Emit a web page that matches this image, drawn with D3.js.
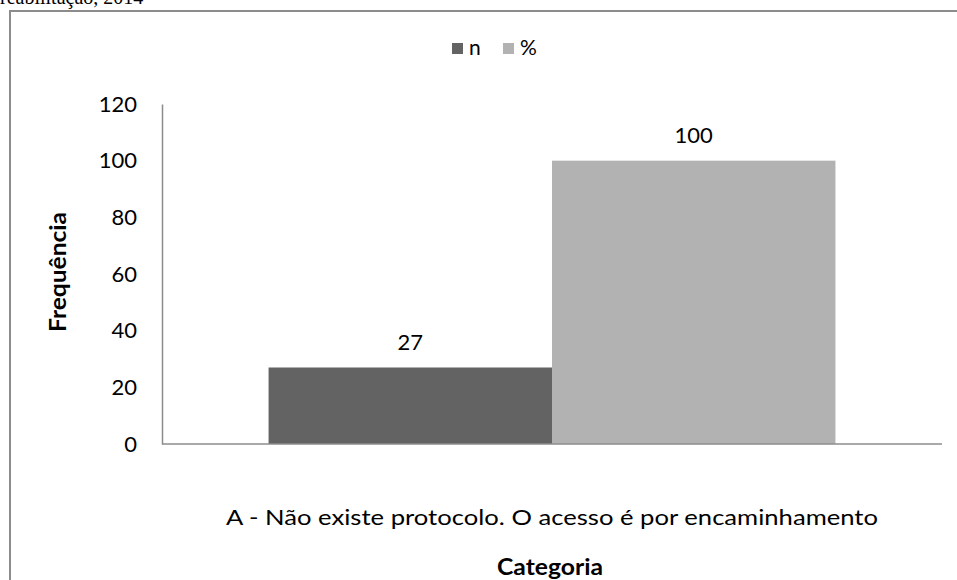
<!DOCTYPE html>
<html><head><meta charset="utf-8">
<script src="https://cdn.jsdelivr.net/npm/d3@7"></script>
<style>body{margin:0;background:#fff}svg{display:block}</style>
</head><body>
<svg id="c" width="957" height="580"></svg>
<script>
const categories = ["A - Não existe protocolo. O acesso é por encaminhamento"];
const seriesNames = ["n", "%"];
const seriesN = [27];
const seriesPct = [100];
const yTicks = [0, 20, 40, 60, 80, 100, 120];
const colors = ["#636363", "#b2b2b2"];
const font = "Lato, 'Open Sans', sans-serif";

const svg = d3.select("#c");
// cut-off caption above the chart frame
svg.append("text").attr("x", 0).attr("y", 4).attr("font-family", "'Liberation Serif', 'Times New Roman', serif")
  .attr("font-size", 20).attr("fill", "#000").text("reabilitação, 2014");
// frame
svg.append("rect").attr("x", 10).attr("y", 11).attr("width", 960).attr("height", 600)
  .attr("fill", "none").attr("stroke", "#8c8c8c").attr("stroke-width", 2);

const x0 = d3.scaleBand().domain(categories).range([162, 942]).paddingInner(0).paddingOuter(0.188);
const x1 = d3.scaleBand().domain(seriesNames).range([0, x0.bandwidth()]);
const y = d3.scaleLinear().domain([0, 120]).range([444, 104]);

const data = categories.map((c, i) => ({cat: c, vals: [seriesN[i], seriesPct[i]]}));

// bars
const g = svg.append("g");
data.forEach(d => {
  d.vals.forEach((v, j) => {
    const bx = x0(d.cat) + x1(seriesNames[j]);
    g.append("rect").attr("x", bx).attr("y", y(v)).attr("width", x1.bandwidth())
      .attr("height", y(0) - y(v)).attr("fill", colors[j]);
    g.append("text").attr("x", bx + x1.bandwidth() / 2).attr("y", y(v) - 18)
      .attr("text-anchor", "middle").attr("font-family", font).attr("font-size", 22)
      .attr("fill", "#000").text(v);
  });
});

// y axis
const yAxis = d3.axisLeft(y).tickValues(yTicks).tickSize(0).tickPadding(25);
const ya = svg.append("g").attr("transform", "translate(162,0)").call(yAxis);
ya.select(".domain").attr("stroke", "#8c8c8c").attr("stroke-width", 1.5);
ya.selectAll("text").attr("font-family", font).attr("font-size", 22).attr("fill", "#000");

// x axis
const xAxis = d3.axisBottom(x0).tickSize(0);
const xa = svg.append("g").attr("transform", "translate(0,444)").call(xAxis);
xa.select(".domain").attr("stroke", "#8c8c8c").attr("stroke-width", 1.5).attr("d", "M162,0H942");
xa.selectAll("text").attr("font-family", font).attr("font-size", 22).attr("fill", "#000")
  .attr("dy", "0").attr("y", 81)
  .attr("textLength", 652).attr("lengthAdjust", "spacingAndGlyphs");

// axis titles
svg.append("text").attr("x", 550).attr("y", 575).attr("text-anchor", "middle")
  .attr("font-family", font).attr("font-weight", "bold").attr("font-size", 22)
  .attr("textLength", 106).attr("lengthAdjust", "spacingAndGlyphs").text("Categoria");
svg.append("text").attr("transform", "translate(66,272) rotate(-90)").attr("text-anchor", "middle")
  .attr("font-family", font).attr("font-weight", "bold").attr("font-size", 22)
  .attr("textLength", 120).attr("lengthAdjust", "spacingAndGlyphs").text("Frequência");

// legend
const leg = svg.append("g");
const legX = [452, 503];
seriesNames.forEach((s, j) => {
  leg.append("rect").attr("x", legX[j]).attr("y", 43).attr("width", 11).attr("height", 11).attr("fill", colors[j]);
  leg.append("text").attr("x", legX[j] + 17).attr("y", 55).attr("font-family", font)
    .attr("font-size", 21).attr("fill", "#000").text(s);
});
</script>
</body></html>
